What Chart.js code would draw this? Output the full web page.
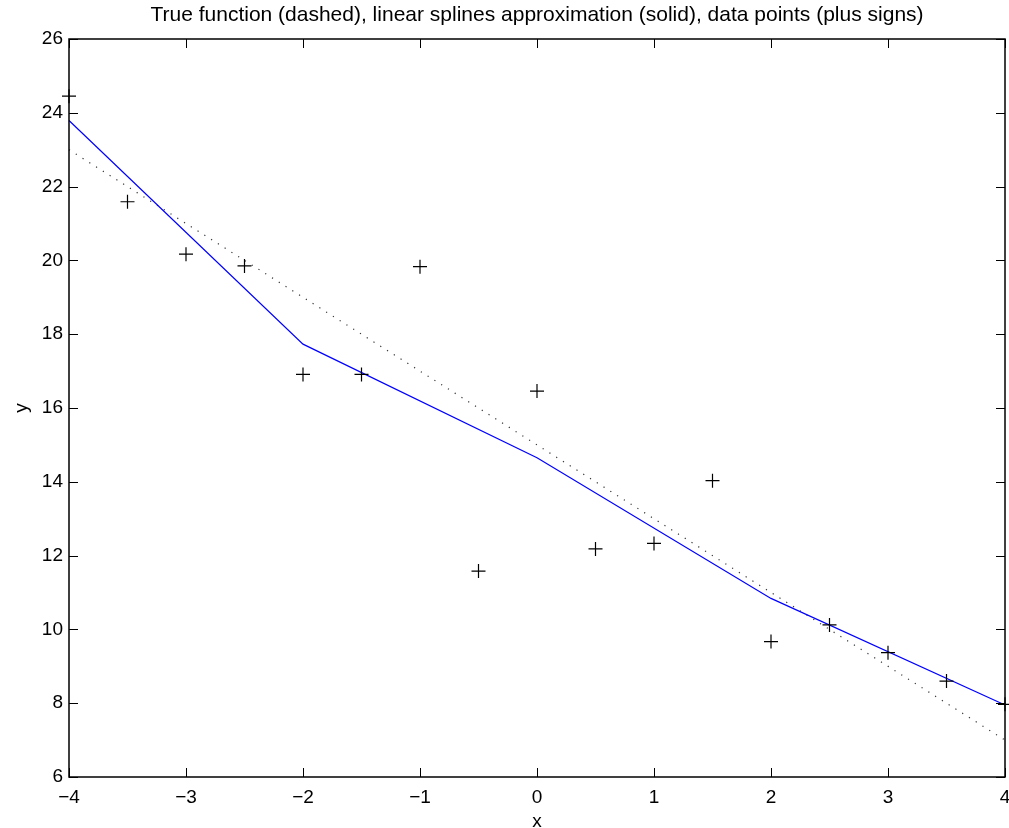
<!DOCTYPE html>
<html>
<head>
<meta charset="utf-8">
<script src="https://cdn.jsdelivr.net/npm/chart.js@4/dist/chart.umd.min.js"></script>
<style>
html,body{margin:0;padding:0;background:#fff;overflow:hidden;}
#wrap{width:1009px;height:828px;}
canvas{display:block;}
</style>
</head>
<body>
<div id="wrap"><canvas id="c" width="1009" height="828"></canvas></div>
<script>
const titleText = 'True function (dashed), linear splines approximation (solid), data points (plus signs)';
const dataX = [-4,-3.5,-3,-2.5,-2,-1.5,-1,-0.5,0,0.5,1,1.5,2,2.5,3,3.5,4];
const dataY = [24.45,21.59,20.17,19.85,16.91,16.91,19.83,11.58,16.46,12.18,12.33,14.03,9.67,10.12,9.37,8.60,7.97];
const splineX = [-4,-2,0,2,4];
const splineY = [23.79,17.73,14.65,10.84,7.95];
const trueX = [-4,4];
const trueY = [23,7];
const xTicks = [-4,-3,-2,-1,0,1,2,3,4];
const yTicks = [6,8,10,12,14,16,18,20,22,24,26];

const pts = (xs, ys) => xs.map((x,i)=>({x:x, y:ys[i]}));
const FONT = 'Liberation Sans, Arial, Helvetica, sans-serif';
const fmt = v => v < 0 ? '\u2212' + Math.abs(v) : String(v);
const noPad = s => { s.getPadding = () => ({left: 0, right: 0, top: 0, bottom: 0}); s.paddingLeft = s.paddingRight = s.paddingTop = s.paddingBottom = 0; };

const frame = {
  id: 'frame',
  afterDatasetsDraw(chart) {
    const {ctx, chartArea: a, scales} = chart;
    ctx.save();
    ctx.strokeStyle = '#000';
    ctx.lineWidth = 1;
    const L = 9;
    ctx.beginPath();
    xTicks.forEach(v => {
      const px = Math.round(scales.x.getPixelForValue(v)) + 0.5;
      ctx.moveTo(px, a.bottom); ctx.lineTo(px, a.bottom - L);
      ctx.moveTo(px, a.top); ctx.lineTo(px, a.top + L);
    });
    yTicks.forEach(v => {
      const py = Math.round(scales.y.getPixelForValue(v)) + 0.5;
      ctx.moveTo(a.left, py); ctx.lineTo(a.left + L, py);
      ctx.moveTo(a.right, py); ctx.lineTo(a.right - L, py);
    });
    ctx.stroke();
    ctx.lineWidth = 1.5;
    ctx.strokeRect(a.left, a.top, a.right - a.left, a.bottom - a.top);
    ctx.restore();
  }
};

new Chart(document.getElementById('c'), {
  type: 'scatter',
  data: {
    datasets: [
      {
        label: 'true', data: pts(trueX, trueY), showLine: true,
        borderColor: '#333', borderWidth: 1.2, borderDash: [1.2, 6.8],
        pointRadius: 0, fill: false, order: 3
      },
      {
        label: 'spline', data: pts(splineX, splineY), showLine: true,
        borderColor: '#0000ff', borderWidth: 1.2, pointRadius: 0, fill: false, order: 2
      },
      {
        label: 'data', data: pts(dataX, dataY), showLine: false,
        pointStyle: 'cross', pointRadius: 7, pointBorderWidth: 1.2,
        borderColor: '#000', backgroundColor: '#000', order: 1
      }
    ]
  },
  options: {
    responsive: false,
    animation: false,
    clip: false,
    layout: { autoPadding: false, padding: { left: 0, right: 4, top: 0, bottom: 0 } },
    plugins: {
      legend: { display: false },
      tooltip: { enabled: false },
      title: { display: false }
    },
    scales: {
      x: {
        type: 'linear', min: -4, max: 4,
        afterBuildTicks: s => { s.ticks = xTicks.map(v => ({value: v})); },
        afterFit: s => { s.height = 51; noPad(s); },
        grid: { display: false, drawTicks: false },
        border: { display: false },
        ticks: { color: '#000', font: { family: FONT, size: 19 }, padding: 9, callback: fmt, maxRotation: 0, autoSkip: false },
        title: { display: true, text: 'x', color: '#000', font: { family: FONT, size: 19 }, padding: { top: 0, bottom: -5 } }
      },
      xTop: {
        type: 'linear', axis: 'x', position: 'top', min: -4, max: 4,
        afterFit: s => { s.height = 39; noPad(s); },
        grid: { display: false, drawTicks: false },
        border: { display: false },
        ticks: { display: false },
        title: { display: true, text: titleText, color: '#000', font: { family: FONT, size: 21 }, padding: { top: 2.5, bottom: 0 } }
      },
      y: {
        type: 'linear', min: 6, max: 26,
        afterBuildTicks: s => { s.ticks = yTicks.map(v => ({value: v})); },
        afterFit: s => { s.width = 69; noPad(s); },
        grid: { display: false, drawTicks: false },
        border: { display: false },
        ticks: { color: '#000', font: { family: FONT, size: 19 }, padding: 6, callback: fmt, autoSkip: false },
        title: { display: true, text: 'y', color: '#000', font: { family: FONT, size: 19 }, padding: { top: 10.5, bottom: 0 } }
      }
    }
  },
  plugins: [frame]
});
</script>
</body>
</html>
